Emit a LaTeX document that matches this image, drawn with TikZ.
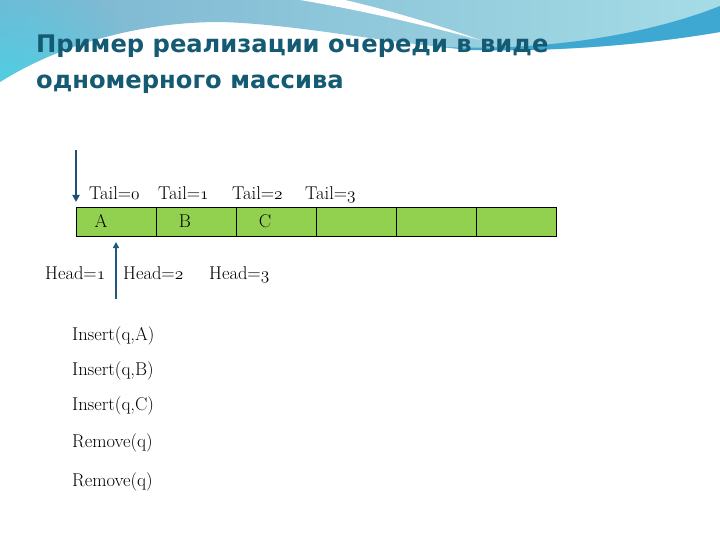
\documentclass[tikz,border=0pt]{standalone}
\usepackage{fontspec}
\newfontfamily\titlefont{DejaVu Sans}
\usetikzlibrary{arrows.meta,fadings}
\definecolor{titlecol}{RGB}{20,90,115}
\definecolor{cellgreen}{RGB}{146,208,80}
\definecolor{arrowblue}{RGB}{31,78,121}
\definecolor{arrowteal}{RGB}{30,90,125}
\definecolor{bandleft}{RGB}{122,180,208}
\definecolor{bandright}{RGB}{165,220,230}
\definecolor{bandcyan}{RGB}{70,212,232}
\definecolor{stripeblue}{RGB}{62,168,210}
\tikzfading[name=softglow, inner color=transparent!0, outer color=transparent!100]
\newcommand\osn[1]{{\usefont{OML}{cmm}{m}{it}#1}}
\tikzset{
  lbl/.style={inner sep=0pt, font=\fontsize{18.5}{21}\selectfont, text=black},
  cmd/.style={lbl, anchor=base west},
  cellbox/.style={draw=black, line width=0.8pt, fill=cellgreen, minimum width=80pt, minimum height=29pt, inner sep=0pt, outer sep=0pt},
  darr/.style={draw=arrowblue, line width=2.8pt, -{Triangle[length=7pt,width=7pt]}},
  uarr/.style={draw=arrowteal, line width=2pt, -{Triangle[length=6pt,width=6pt]}},
  ttl/.style={anchor=base west, inner sep=0pt, text=titlecol, font=\titlefont\bfseries\fontsize{24.2}{28}\selectfont}
}
\begin{document}
\begin{tikzpicture}[x=1pt,y=-1pt]
\useasboundingbox (0,0) rectangle (720,540);
% background
\fill[white] (0,0) rectangle (720,540);
\def\bandpath{(0,0) -- (720,0) -- (720,32)
  .. controls (650,44) and (560,52) .. (480,50)
  .. controls (400,46) and (300,24) .. (220,22)
  .. controls (130,22) and (50,50) .. (0,82) -- cycle}
\shade[left color=bandleft, right color=bandright] \bandpath;
\begin{scope}
  \clip \bandpath;
  \fill[bandcyan, path fading=softglow] (0,112) circle (150);
\end{scope}
\fill[white]
  (300,0) .. controls (360,10) and (420,24) .. (480,40)
  .. controls (430,22) and (380,8) .. (345,0) -- cycle;
\fill[stripeblue]
  (440,47) .. controls (560,52) and (660,30) .. (720,6)
  -- (720,32) .. controls (650,44) and (560,52) .. (470,50) -- cycle;
% title
\node[ttl] (t1) at (36,53) {Пример реализации очереди в виде};
\node[ttl] (t2) at (36,89) {одномерного массива};
% array cells
\foreach \i in {0,...,5} {
  \node[cellbox] (c\i) at (116+80*\i,221.5) {};
}
% letters in cells
\node[lbl, anchor=base] (la) at (101,228) {A};
\node[lbl, anchor=base] (lb) at (185,228) {B};
\node[lbl, anchor=base] (lc) at (265,228) {C};
% tail labels
\node[cmd] (tail0) at (89,200) {Tail=\osn{0}};
\node[cmd] (tail1) at (158,200) {Tail=\osn{1}};
\node[cmd] (tail2) at (232,200) {Tail=\osn{2}};
\node[cmd] (tail3) at (305,200) {Tail=\osn{3}};
% head labels
\node[cmd] (head1) at (45,279) {Head=\osn{1}};
\node[cmd] (head2) at (123,279) {Head=\osn{2}};
\node[cmd] (head3) at (209,279) {Head=\osn{3}};
% arrows
\coordinate (dtop) at (76,150);
\draw[darr] (dtop) -- ([yshift=5pt]c0.north west);
\coordinate (ubot) at (116,299);
\draw[uarr] (ubot) -- ([yshift=-6pt]c0.south);
% operations
\node[cmd] (op1) at (72,340) {Insert(q,A)};
\node[cmd] (op2) at (72,375) {Insert(q,B)};
\node[cmd] (op3) at (72,410) {Insert(q,C)};
\node[cmd] (op4) at (72,447) {Remove(q)};
\node[cmd] (op5) at (72,486) {Remove(q)};
\end{tikzpicture}
\end{document}
